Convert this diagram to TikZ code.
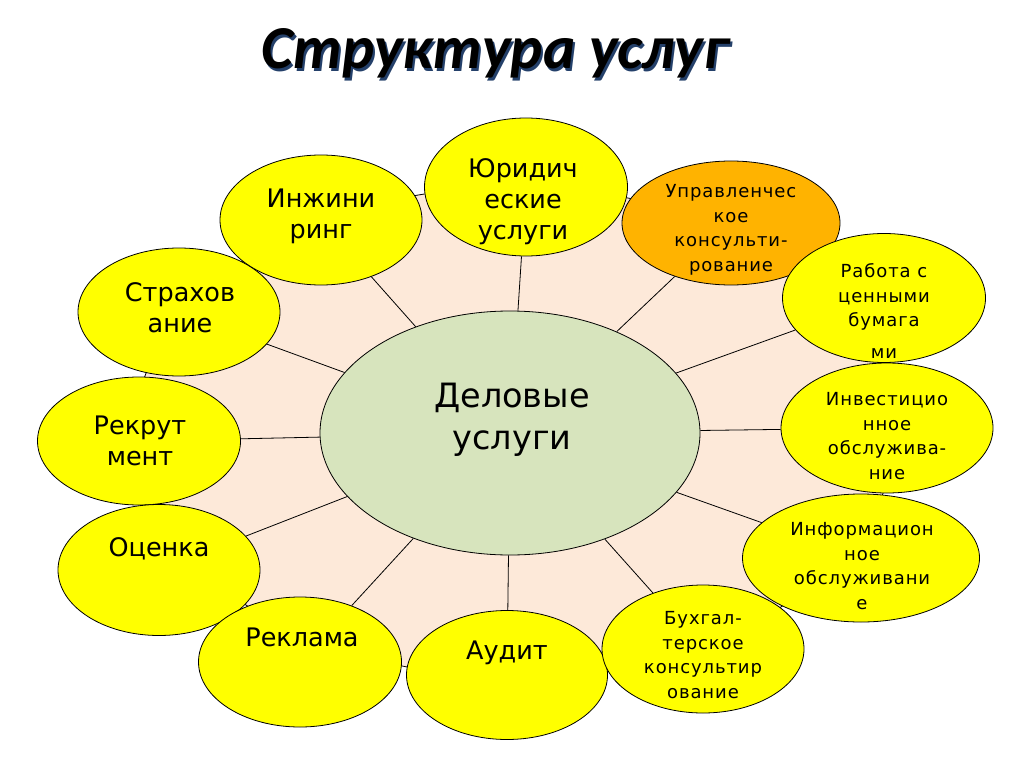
\documentclass[tikz,border=0pt]{standalone}
\usepackage{fontspec}
\setmainfont{DejaVu Sans}
\newfontfamily\titlefont{Carlito}
\newfontfamily\leaffont[LetterSpace=5]{DejaVu Sans}
\usetikzlibrary{shapes.geometric}

\definecolor{peach}{HTML}{FDE9D9}
\definecolor{sage}{HTML}{D7E4BD}
\definecolor{leafyellow}{HTML}{FFFF00}
\definecolor{amber}{HTML}{FFB300}
\definecolor{shadowblue}{HTML}{24406A}

\newcommand{\shadowtext}[1]{\rlap{\kern2pt\raisebox{-2.5pt}{\color{shadowblue}#1}}#1}

\begin{document}
\begin{tikzpicture}[x=1pt,y=-1pt,line width=0.8pt,
  oval/.style={ellipse,draw,inner sep=0pt},
  leaf/.style={oval,fill=leafyellow},
  bigtext/.style={font=\fontsize{25.5}{31}\selectfont,align=center},
  smalltext/.style={font=\leaffont\fontsize{18}{24.5}\selectfont,align=center}]
  \useasboundingbox (0,0) rectangle (1024,767);
  \node[font=\titlefont\bfseries\itshape\fontsize{61}{70}\selectfont,anchor=base] (title) at (495.5,69) {\shadowtext{Структура услуг}};
  \node[oval,fill=peach,minimum width=760,minimum height=490] (bg) at (515,432) {};
  \node[oval,fill=sage,minimum width=380,minimum height=244] (ctr) at (510,433) {};
  \node[leaf,minimum width=202,minimum height=130] (eng) at (321,220) {};
  \node[leaf,minimum width=202,minimum height=128] (ins) at (179,312) {};
  \node[leaf,minimum width=203,minimum height=128] (rec) at (139,441) {};
  \node[leaf,minimum width=202,minimum height=131] (eval) at (159,570) {};
  \node[leaf,minimum width=203,minimum height=130] (adv) at (300,662) {};
  \node[leaf,minimum width=201,minimum height=129] (aud) at (507,675) {};
  \node[leaf,minimum width=203,minimum height=138] (law) at (526,187) {};
  \node[oval,fill=amber,minimum width=218,minimum height=124] (mgmt) at (731,223) {};
  \node[leaf,minimum width=203,minimum height=129] (sec) at (884,298) {};
  \node[leaf,minimum width=212,minimum height=130] (inv) at (887,428) {};
  \node[leaf,minimum width=237,minimum height=128] (info) at (861,558) {};
  \node[leaf,minimum width=202,minimum height=128] (acc) at (703,649) {};
  \foreach \leafname in {eng,ins,rec,eval,adv,aud,law,mgmt,sec,inv,info,acc}
    \draw (ctr) -- (\leafname);
  \node[font=\fontsize{33.5}{42}\selectfont,align=center] (ctr-t) at (512,420) {Деловые\\услуги};
  \node[bigtext] (eng-t) at (321,216) {Инжини\\ринг};
  \node[bigtext] (law-t) at (523,202) {Юридич\\еские\\услуги};
  \node[bigtext] (ins-t) at (180,308) {Страхов\\ание};
  \node[bigtext] (rec-t) at (140,441) {Рекрут\\мент};
  \node[bigtext] (eval-t) at (159,549) {Оценка};
  \node[bigtext] (adv-t) at (302,637) {Реклама};
  \node[bigtext] (aud-t) at (507,653) {Аудит};
  \node[smalltext] (mgmt-t) at (731,230) {Управленчес\\кое\\консульти-\\рование};
  \node[smalltext] (sec-t) at (884,311) {Работа с\\ценными\\бумага\\[7pt]ми};
  \node[smalltext] (inv-t) at (887,436) {Инвестицио\\нное\\обслужива-\\ние};
  \node[smalltext] (info-t) at (862,566) {Информацион\\ное\\обслуживани\\е};
  \node[smalltext] (acc-t) at (703,655) {Бухгал-\\терское\\консультир\\ование};
\end{tikzpicture}
\end{document}
